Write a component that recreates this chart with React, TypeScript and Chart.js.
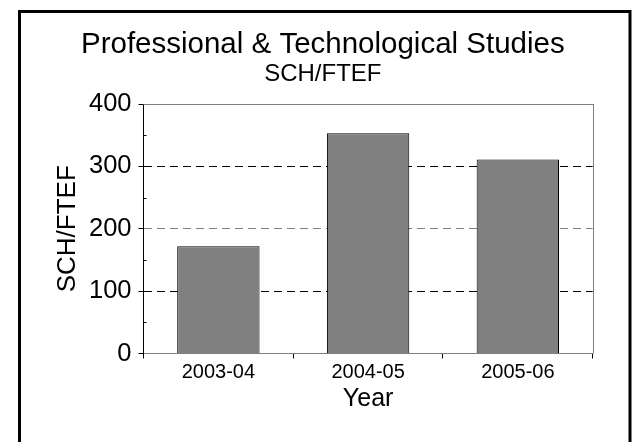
import React, { useEffect, useRef } from "react";
import { Chart, registerables } from "chart.js";

Chart.register(...registerables);

const categories = ["2003-04", "2004-05", "2005-06"];
const values = [172, 353, 311];
const yTicks = [0, 100, 200, 300, 400];
const minorTicks = [50, 150, 250, 350];
const titleText = "Professional & Technological Studies";
const subtitleText = "SCH/FTEF";
const yTitle = "SCH/FTEF";
const xTitle = "Year";

const FONT = "'Liberation Sans', Arial, sans-serif";

const decorPlugin = {
  id: "decor",
  beforeDraw(chart: any) {
    const ctx = chart.ctx;
    ctx.save();
    ctx.fillStyle = "#ffffff";
    ctx.fillRect(0, 0, chart.width, chart.height);
    ctx.restore();
  },
  afterDraw(chart: any) {
    const ctx = chart.ctx;
    const { left, right, top, bottom } = chart.chartArea;
    const y = chart.scales.y;
    ctx.save();
    ctx.strokeStyle = "#808080";
    ctx.lineWidth = 1;
    ctx.setLineDash([]);
    ctx.beginPath();
    ctx.moveTo(left, Math.round(top) + 0.5);
    ctx.lineTo(right + 0.5, Math.round(top) + 0.5);
    ctx.moveTo(Math.round(right) + 0.5, top);
    ctx.lineTo(Math.round(right) + 0.5, bottom);
    ctx.stroke();
    ctx.strokeStyle = "#000000";
    ctx.beginPath();
    for (const v of minorTicks) {
      const py = Math.round(y.getPixelForValue(v)) + 0.5;
      ctx.moveTo(left, py);
      ctx.lineTo(left + 3, py);
    }
    ctx.stroke();
    ctx.lineWidth = 3;
    ctx.strokeRect(19.5, 11.5, 610.5, 500);
    ctx.restore();
  },
};

export default function App() {
  const ref = useRef<HTMLCanvasElement | null>(null);
  useEffect(() => {
    if (!ref.current) return;
    Chart.defaults.font.family = FONT;
    const chart = new Chart(ref.current, {
      type: "bar",
      data: {
        labels: categories,
        datasets: [
          {
            data: values,
            backgroundColor: "#808080",
            borderColor: "#000000",
            borderWidth: 1,
            categoryPercentage: 1,
            barPercentage: 0.55,
          },
        ],
      },
      options: {
        animation: false,
        responsive: false,
        layout: { padding: { left: 53, right: 40.3, top: 0, bottom: 30 } },
        plugins: {
          legend: { display: false },
          tooltip: { enabled: false },
          title: {
            display: true,
            text: titleText,
            color: "#000",
            font: { size: 29.5, weight: "normal", lineHeight: 1 },
            padding: { top: 30, bottom: 3 },
          },
          subtitle: {
            display: true,
            text: subtitleText,
            color: "#000",
            font: { size: 24, weight: "normal", lineHeight: 1 },
            padding: { top: 0, bottom: 17.5 },
          },
        },
        scales: {
          x: {
            type: "category",
            offset: true,
            afterFit(scale: any) {
              scale.height = 58.5;
            },
            grid: {
              offset: true,
              drawOnChartArea: false,
              drawTicks: true,
              tickLength: 5,
              tickColor: "#000000",
              tickWidth: 1,
            },
            border: { display: true, color: "#808080", width: 1 },
            ticks: {
              color: "#000",
              font: { size: 20, lineHeight: 1.2 },
              padding: 2,
              maxRotation: 0,
            },
            title: {
              display: true,
              text: xTitle,
              color: "#000",
              font: { size: 25, lineHeight: 1 },
              padding: { top: 0, bottom: 0 },
            },
          },
          y: {
            min: 0,
            max: 400,
            afterFit(scale: any) {
              scale.width = 90.5;
            },
            afterBuildTicks(scale: any) {
              scale.ticks = yTicks.map((v) => ({ value: v }));
            },
            grid: {
              color: (c: any) => {
                const v = c.tick ? c.tick.value : -1;
                if (v === 300 || v === 100) return "#000000";
                if (v === 200) return "#808080";
                return "rgba(0,0,0,0)";
              },
              lineWidth: 1,
              drawTicks: true,
              tickLength: 5,
              tickColor: "#000000",
              tickWidth: 1,
              tickBorderDash: [],
            },
            border: { display: true, color: "#000000", width: 1, dash: [8, 5] },
            ticks: {
              color: "#000",
              font: { size: 25.5, lineHeight: 1.2 },
              padding: 7,
            },
            title: {
              display: true,
              text: yTitle,
              color: "#000",
              font: { size: 26, lineHeight: 1 },
              padding: { top: 1.5, bottom: 0 },
            },
          },
        },
      },
      plugins: [decorPlugin],
    } as any);
    return () => chart.destroy();
  }, []);
  return (
    <div style={{ position: "absolute", left: 0, top: 0, width: 633, height: 442 }}>
      <canvas ref={ref} width={633} height={442} style={{ display: "block" }} />
    </div>
  );
}
